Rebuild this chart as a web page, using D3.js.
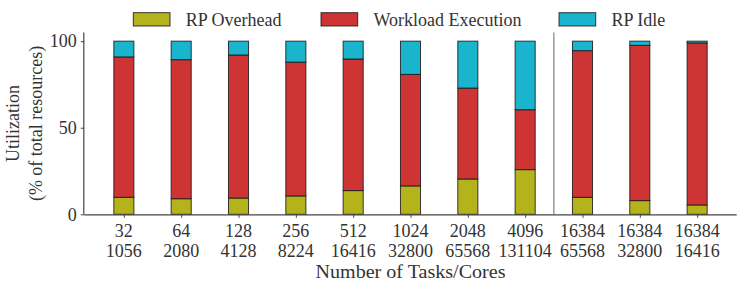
<!DOCTYPE html>
<html>
<head>
<meta charset="utf-8">
<script src="https://cdn.jsdelivr.net/npm/d3@7"></script>
<style>
  html, body { margin: 0; padding: 0; background: #fff; }
  svg { display: block; }
  text { font-family: "Liberation Serif", "DejaVu Serif", serif; fill: #333; }
</style>
</head>
<body>
<svg id="chart" width="748" height="290"></svg>
<script>
// ---- data ----
const tasks = ["32", "64", "128", "256", "512", "1024", "2048", "4096", "16384", "16384", "16384"];
const cores = ["1056", "2080", "4128", "8224", "16416", "32800", "65568", "131104", "65568", "32800", "16416"];
const rpOverhead = [9.8, 9.0, 9.4, 10.6, 13.7, 16.4, 20.4, 25.8, 9.8, 7.9, 5.4];
const workloadExecution = [81.1, 80.3, 82.6, 77.3, 76.0, 64.4, 52.5, 34.6, 84.7, 89.7, 93.6];
const rpIdle = rpOverhead.map((o, i) => +(100 - o - workloadExecution[i]).toFixed(1));
const seriesNames = ["RP Overhead", "Workload Execution", "RP Idle"];
const seriesKeys = ["overhead", "exec", "idle"];
const colors = ["#b5b31b", "#cf3434", "#1ab5cc"];
const yTicks = [0, 50, 100];
const separatorAt = 7.5;

// ---- layout ----
const svg = d3.select("#chart");
const L = 84.3, R = 736.7, T = 32.5, B = 214.3;
const barW = 0.35;

const x = d3.scaleLinear().domain([-0.69, 10.69]).range([L, R]);
const y = d3.scaleLinear().domain([0, 105]).range([B, T]);

const rows = tasks.map((t, i) => ({ i, overhead: rpOverhead[i], exec: workloadExecution[i], idle: rpIdle[i] }));
const stacked = d3.stack().keys(seriesKeys)(rows);

// bars
const g = svg.append("g");
stacked.forEach((layer, li) => {
  g.selectAll(null).data(layer).enter().append("rect")
    .attr("x", d => x(d.data.i - barW / 2))
    .attr("width", d => x(d.data.i + barW / 2) - x(d.data.i - barW / 2))
    .attr("y", d => y(d[1]))
    .attr("height", d => y(d[0]) - y(d[1]))
    .attr("fill", colors[li])
    .attr("stroke", "#1a1a1a")
    .attr("stroke-opacity", 0.85)
    .attr("stroke-width", 1);
});

// separator
svg.append("line")
  .attr("x1", x(separatorAt)).attr("x2", x(separatorAt))
  .attr("y1", T).attr("y2", B)
  .attr("stroke", "#999").attr("stroke-width", 1.5);

// y axis
const yAxis = d3.axisLeft(y).tickValues(yTicks).tickSize(3.5).tickPadding(4);
const gy = svg.append("g").attr("transform", `translate(${L},0)`).call(yAxis);
gy.select(".domain").attr("d", `M-0.5,${T}V${B}`).attr("stroke", "#444").attr("stroke-width", 1.2);
gy.selectAll(".tick line").attr("stroke", "#444");
gy.selectAll(".tick text").attr("font-size", 18).attr("font-family", "Liberation Serif, serif").attr("fill", "#333");

// x axis
const xAxis = d3.axisBottom(x).tickValues(d3.range(tasks.length)).tickSize(3.5).tickFormat("");
const gx = svg.append("g").attr("transform", `translate(0,${B})`).call(xAxis);
gx.select(".domain").attr("d", `M${L},0.5H${R}`).attr("stroke", "#444").attr("stroke-width", 1.2);
gx.selectAll(".tick line").attr("stroke", "#444");

const labels = svg.append("g");
tasks.forEach((t, i) => {
  const txt = labels.append("text").attr("text-anchor", "middle").attr("font-size", 18);
  txt.append("tspan").attr("x", x(i)).attr("y", 236.5).text(t);
  txt.append("tspan").attr("x", x(i)).attr("y", 257.3).text(cores[i]);
});

// axis titles
svg.append("text").attr("x", (L + R) / 2).attr("y", 278).attr("text-anchor", "middle")
  .attr("font-size", 19).attr("textLength", 190).attr("lengthAdjust", "spacingAndGlyphs")
  .text("Number of Tasks/Cores");

const yl = svg.append("text").attr("transform", `translate(19,${(T + B) / 2}) rotate(-90)`)
  .attr("text-anchor", "middle").attr("font-size", 18);
yl.append("tspan").attr("x", 0).attr("y", 0).text("Utilization");
yl.append("tspan").attr("x", 0).attr("y", 22.5).text("(% of total resources)");

// legend
const legendPatchX = [133.3, 321, 559];
const leg = svg.append("g");
seriesNames.forEach((name, i) => {
  leg.append("rect").attr("x", legendPatchX[i]).attr("y", 12.7).attr("width", 36.7).attr("height", 13.3)
    .attr("fill", colors[i]).attr("stroke", "#1a1a1a").attr("stroke-opacity", 0.85).attr("stroke-width", 1);
  leg.append("text").attr("x", legendPatchX[i] + 52.4).attr("y", 26).attr("font-size", 18).text(name);
});
</script>
</body>
</html>
